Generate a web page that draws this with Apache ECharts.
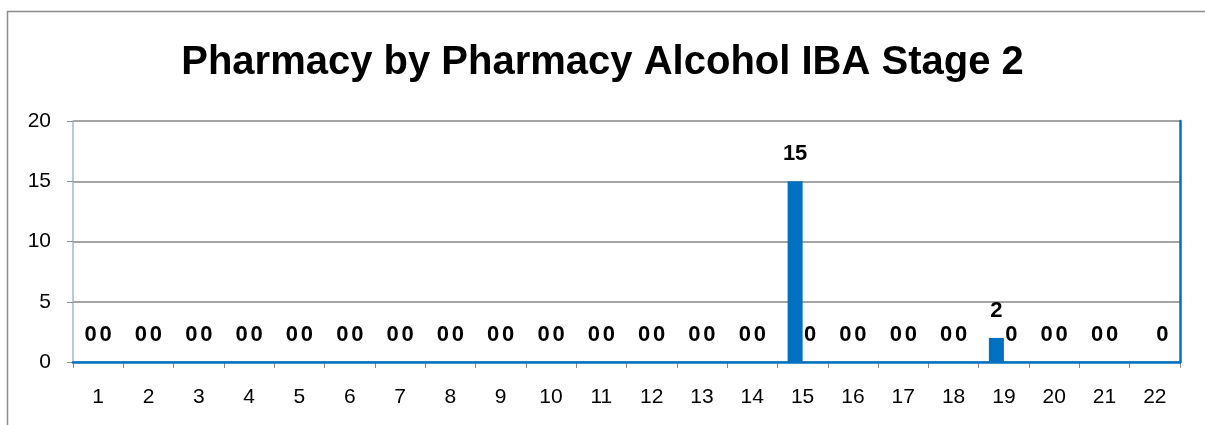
<!DOCTYPE html>
<html>
<head>
<meta charset="utf-8">
<script src="https://cdn.jsdelivr.net/npm/echarts@6/dist/echarts.min.js"></script>
<style>html,body{margin:0;padding:0;background:#fff;}#c{width:1205px;height:425px;}</style>
</head>
<body>
<div id="c"></div>
<script>
const categories = ['1','2','3','4','5','6','7','8','9','10','11','12','13','14','15','16','17','18','19','20','21','22'];
const seriesA = [0,0,0,0,0,0,0,0,0,0,0,0,0,0,15,0,0,0,2,0,0,null];
const seriesB = [0,0,0,0,0,0,0,0,0,0,0,0,0,0,0,0,0,0,0,0,0,0];
const yTicks = { min: 0, max: 20, interval: 5 };
const titleText = 'Pharmacy by Pharmacy Alcohol IBA Stage 2';

const FONT = 'Liberation Sans';
const BLUE = '#0070C0';
const labelStyle = {
  show: true, position: 'top', distance: 16,
  fontFamily: FONT, fontWeight: 'bold', fontSize: 22, color: '#000'
};
const chart = echarts.init(document.getElementById('c'), null, {renderer: 'canvas'});
chart.setOption({
  animation: false,
  backgroundColor: '#fff',
  graphic: [{
    type: 'rect', left: 5, top: 9,
    shape: { width: 1220, height: 430 },
    style: { fill: 'none', stroke: '#8c8c8c', lineWidth: 1.5 },
    silent: true
  }],
  title: {
    text: titleText, left: 'center', top: 38,
    textStyle: { fontFamily: FONT, fontWeight: 'bold', fontSize: 40, color: '#000' }
  },
  grid: { left: 73, right: 25, top: 121, bottom: 63, containLabel: false },
  xAxis: [{
    type: 'category', data: categories, position: 'bottom',
    axisLine: { lineStyle: { color: '#9DB9D6', width: 1.5 } },
    axisTick: { show: true, length: 6, lineStyle: { color: '#8c8c8c' } },
    axisLabel: { fontFamily: FONT, fontSize: 21, color: '#000', margin: 25, interval: 0 }
  }, {
    type: 'category', data: categories, position: 'top', z: 10,
    axisLine: { show: true, lineStyle: { color: BLUE, width: 2.5 } },
    axisTick: { show: false }, axisLabel: { show: false }
  }],
  yAxis: [{
    type: 'value', min: yTicks.min, max: yTicks.max, interval: yTicks.interval,
    axisLine: { show: true, lineStyle: { color: '#9DB9D6', width: 1.5 } },
    axisTick: { show: true, length: 6, lineStyle: { color: '#8c8c8c' } },
    axisLabel: { fontFamily: FONT, fontSize: 21, color: '#000', margin: 22 },
    splitLine: { lineStyle: { color: '#868686', width: 1.5 } }
  }, {
    type: 'value', min: yTicks.min, max: yTicks.max, interval: yTicks.interval, position: 'right', z: 10,
    axisLine: { show: true, lineStyle: { color: BLUE, width: 2.5 } },
    axisTick: { show: false }, axisLabel: { show: false }, splitLine: { show: false }
  }],
  series: [{
    name: 'A', type: 'bar', data: seriesA, barWidth: 15, barGap: '0%',
    itemStyle: { color: BLUE }, label: labelStyle
  }, {
    name: 'B', type: 'bar', data: seriesB, barWidth: 15, barGap: '0%',
    itemStyle: { color: BLUE }, label: labelStyle
  }]
});
</script>
</body>
</html>
